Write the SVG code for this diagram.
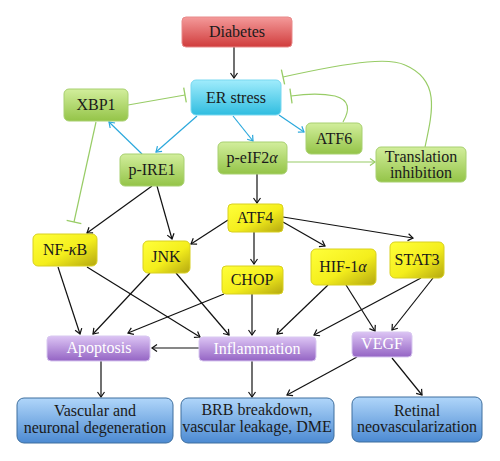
<svg xmlns="http://www.w3.org/2000/svg" width="500" height="461" viewBox="0 0 500 461">
<defs>
<linearGradient id="gRed" x1="0" y1="0" x2="0" y2="1"><stop offset="0" stop-color="#f49a9a"/><stop offset="1" stop-color="#d03c3c"/></linearGradient>
<linearGradient id="gCyan" x1="0" y1="0" x2="0" y2="1"><stop offset="0" stop-color="#a0ecfc"/><stop offset="1" stop-color="#30bde0"/></linearGradient>
<linearGradient id="gGreen" x1="0" y1="0" x2="0" y2="1"><stop offset="0" stop-color="#d2ee9c"/><stop offset="1" stop-color="#94c448"/></linearGradient>
<linearGradient id="gYellow" x1="0" y1="0" x2="1" y2="1"><stop offset="0" stop-color="#ffff3a"/><stop offset="0.55" stop-color="#f4ee1c"/><stop offset="1" stop-color="#b4a810"/></linearGradient>
<linearGradient id="gPurple" x1="0" y1="0" x2="0" y2="1"><stop offset="0" stop-color="#dcc4f4"/><stop offset="1" stop-color="#9464c4"/></linearGradient>
<linearGradient id="gBlue" x1="0" y1="0" x2="0" y2="1"><stop offset="0" stop-color="#b0d6fa"/><stop offset="1" stop-color="#4c8ad2"/></linearGradient>
<marker id="aK" markerUnits="userSpaceOnUse" markerWidth="12" markerHeight="12" refX="6" refY="4" orient="auto" viewBox="0 0 12 8"><path d="M1,0.5 L6,4 L1,7.5" fill="none" stroke="#111" stroke-width="1.2"/></marker>
<marker id="aB" markerUnits="userSpaceOnUse" markerWidth="12" markerHeight="12" refX="6" refY="4" orient="auto" viewBox="0 0 12 8"><path d="M1,0.5 L6,4 L1,7.5" fill="none" stroke="#2aa8dc" stroke-width="1.2"/></marker>
<marker id="aG" markerUnits="userSpaceOnUse" markerWidth="12" markerHeight="12" refX="6" refY="4" orient="auto" viewBox="0 0 12 8"><path d="M1,0.5 L6,4 L1,7.5" fill="none" stroke="#98cc66" stroke-width="1.2"/></marker>
<marker id="tG" markerUnits="userSpaceOnUse" markerWidth="4" markerHeight="18" refX="2" refY="9" orient="auto" viewBox="0 0 4 18"><path d="M2,1.5 L2,16.5" stroke="#98cc66" stroke-width="1.3"/></marker>
</defs>
<style>
.red{fill:url(#gRed);stroke:#e88a8a;stroke-width:1}
.cyan{fill:url(#gCyan);stroke:#78d8f0;stroke-width:1}
.green{fill:url(#gGreen);stroke:#a8d070;stroke-width:1}
.yellow{fill:url(#gYellow);stroke:#d8d020;stroke-width:1}
.purple{fill:url(#gPurple);stroke:#d8c8f0;stroke-width:1}
.blue{fill:url(#gBlue);stroke:#3e6f9e;stroke-width:1}
.k{stroke:#111;stroke-width:1.2;fill:none;marker-end:url(#aK)}
.b{stroke:#2aa8dc;stroke-width:1.2;fill:none;marker-end:url(#aB)}
.g{stroke:#98cc66;stroke-width:1.2;fill:none}
.ga{marker-end:url(#aG)}
.gt{marker-end:url(#tG)}
</style>
<g id="connectors">
<line class="k" x1="234" y1="47" x2="234" y2="78"/>
<line class="b" x1="197" y1="116" x2="156" y2="152"/>
<line class="b" x1="142" y1="154" x2="109" y2="122"/>
<line class="b" x1="233" y1="116" x2="253" y2="141"/>
<line class="b" x1="279" y1="115" x2="304" y2="132"/>
<line class="g gt" x1="128" y1="105" x2="185" y2="95"/>
<path class="g gt" d="M425,147 C433,110 440,80 405,65 C390,58 360,60 283,77"/>
<path class="g gt" d="M343,122 C350,110 350,100 335,96 C320,93 305,94 291,96"/>
<line class="g ga" x1="287" y1="162" x2="375" y2="162"/>
<line class="g gt" x1="96" y1="122" x2="74" y2="222"/>
<line class="k" x1="257" y1="174" x2="257" y2="203"/>
<line class="k" x1="152" y1="186" x2="87" y2="233"/>
<line class="k" x1="157" y1="186" x2="172" y2="239"/>
<line class="k" x1="228" y1="220" x2="191" y2="244"/>
<line class="k" x1="254" y1="232" x2="254" y2="264"/>
<line class="k" x1="283" y1="222" x2="325" y2="246"/>
<line class="k" x1="283" y1="217" x2="413" y2="238"/>
<line class="k" x1="58" y1="267" x2="80" y2="334"/>
<line class="k" x1="87" y1="267" x2="200" y2="337"/>
<line class="k" x1="150" y1="273" x2="93" y2="334"/>
<line class="k" x1="176" y1="273" x2="229" y2="335"/>
<line class="k" x1="224" y1="294" x2="128" y2="333"/>
<line class="k" x1="252" y1="294" x2="252" y2="335"/>
<line class="k" x1="328" y1="285" x2="277" y2="334"/>
<line class="k" x1="346" y1="285" x2="375" y2="331"/>
<line class="k" x1="421" y1="278" x2="314" y2="335"/>
<line class="k" x1="433" y1="278" x2="392" y2="330"/>
<line class="k" x1="199" y1="348" x2="152" y2="348"/>
<line class="k" x1="101" y1="361" x2="101" y2="397"/>
<line class="k" x1="252" y1="361" x2="252" y2="397"/>
<line class="k" x1="357" y1="357" x2="287" y2="395"/>
<line class="k" x1="392" y1="358" x2="422" y2="395"/>
</g>
<g font-family="'Liberation Serif', 'DejaVu Serif', serif" font-size="16" text-anchor="middle" fill="#1a1a1a">
<g id="diabetes"><rect class="red" x="182" y="17" width="110" height="30" rx="4"/><text x="237" y="37">Diabetes</text></g>
<g id="er-stress"><rect class="cyan" x="191" y="80" width="90" height="35" rx="5"/><text x="236" y="103">ER stress</text></g>
<g id="xbp1"><rect class="green" x="64" y="89" width="64" height="32" rx="5"/><text x="96" y="110">XBP1</text></g>
<g id="p-ire1"><rect class="green" x="120" y="154" width="64" height="32" rx="5"/><text x="152" y="175">p-IRE1</text></g>
<g id="p-eif2a"><rect class="green" x="218" y="142" width="69" height="32" rx="5"/><text x="252" y="163">p-eIF2<tspan font-style="italic">α</tspan></text></g>
<g id="atf6"><rect class="green" x="306" y="123" width="56" height="31" rx="5"/><text x="334" y="144">ATF6</text></g>
<g id="translation-inhibition"><rect class="green" x="376" y="147" width="90" height="35" rx="5"/><text x="421" y="162">Translation</text><text x="421" y="178">inhibition</text></g>
<g id="atf4"><rect class="yellow" x="228" y="204" width="55" height="28" rx="4"/><text x="255" y="223">ATF4</text></g>
<g id="nf-kb"><rect class="yellow" x="33" y="234" width="64" height="32" rx="5"/><text x="65" y="255">NF-<tspan font-style="italic">κ</tspan>B</text></g>
<g id="jnk"><rect class="yellow" x="143" y="241" width="47" height="32" rx="5"/><text x="166" y="262">JNK</text></g>
<g id="chop"><rect class="yellow" x="222" y="266" width="61" height="28" rx="4"/><text x="252" y="285">CHOP</text></g>
<g id="hif-1a"><rect class="yellow" x="311" y="249" width="65" height="36" rx="5"/><text x="343" y="272">HIF-1<tspan font-style="italic">α</tspan></text></g>
<g id="stat3"><rect class="yellow" x="390" y="242" width="54" height="36" rx="5"/><text x="417" y="265">STAT3</text></g>
<g id="apoptosis"><rect class="purple" x="47" y="336" width="103" height="25" rx="4"/><text fill="#ffffff" x="99" y="353">Apoptosis</text></g>
<g id="inflammation"><rect class="purple" x="199" y="337" width="117" height="24" rx="4"/><text fill="#ffffff" x="257" y="354">Inflammation</text></g>
<g id="vegf"><rect class="purple" x="352" y="332" width="60" height="25" rx="4"/><text fill="#ffffff" x="382" y="349">VEGF</text></g>
<g id="vascular-neuronal"><rect class="blue" x="17" y="398" width="156" height="45" rx="7"/><text x="95" y="416">Vascular and</text><text x="95" y="433">neuronal degeneration</text></g>
<g id="brb"><rect class="blue" x="181" y="398" width="153" height="45" rx="7"/><text x="257" y="415">BRB breakdown,</text><text x="257" y="432">vascular leakage, DME</text></g>
<g id="retinal"><rect class="blue" x="352" y="397" width="130" height="45" rx="7"/><text x="417" y="416">Retinal</text><text x="417" y="432">neovascularization</text></g>
</g>
</svg>
